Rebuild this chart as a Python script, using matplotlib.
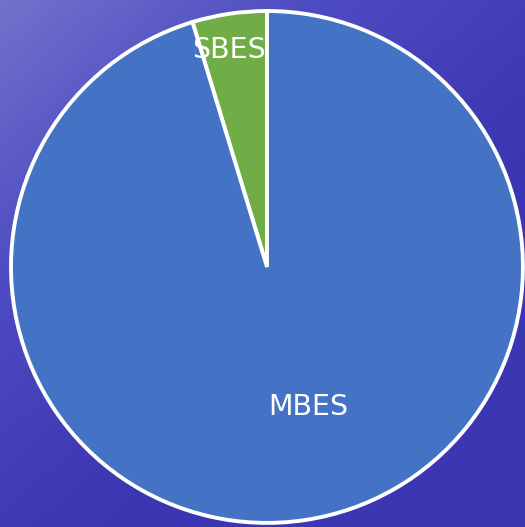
import numpy as np
import matplotlib
matplotlib.use('Agg')
import matplotlib.pyplot as plt
from matplotlib.colors import LinearSegmentedColormap

# Survey share by echo sounder type
labels = ['SBES', 'MBES']
shares = [4.7, 95.3]
colors = ['#70AD47', '#4472C4']
label_dist = [0.86, 0.57]
label_shift = [1.5, 8.0]  # degrees added to each wedge's mid angle

fig = plt.figure(figsize=(5.25, 5.27), dpi=100)

# water-like backdrop: light lavender top-left fading into deep blue
bg = fig.add_axes([0, 0, 1, 1])
bg.set_axis_off()
yy, xx = np.mgrid[0:1:200j, 0:1:200j]
shade = np.clip(1.0 - (0.75 * xx + 0.85 * yy), 0, 1) ** 1.1
cmap = LinearSegmentedColormap.from_list('water', ['#3b36b2', '#4d4bc2', '#7272cc'])
bg.imshow(shade, cmap=cmap, aspect='auto', interpolation='bilinear', extent=[0, 1, 0, 1])

ax = fig.add_axes([0, 0, 1, 1])
ax.set_axis_off()
ax.patch.set_alpha(0)

wedges, _ = ax.pie(shares, colors=colors, startangle=90, counterclock=True,
                   radius=1.0, center=(0, 0),
                   wedgeprops=dict(edgecolor='white', linewidth=2.8))

for w, lab, d, sh in zip(wedges, labels, label_dist, label_shift):
    mid = np.deg2rad((w.theta1 + w.theta2) / 2 + sh)
    ax.text(d * np.cos(mid), d * np.sin(mid), lab, color='white', fontsize=20.5,
            ha='center', va='center', family='DejaVu Sans')

ax.set_xlim(-1.043, 1.008)
ax.set_ylim(-1.016, 1.043)
ax.set_aspect('auto')

fig.savefig('out.png', dpi=100)
